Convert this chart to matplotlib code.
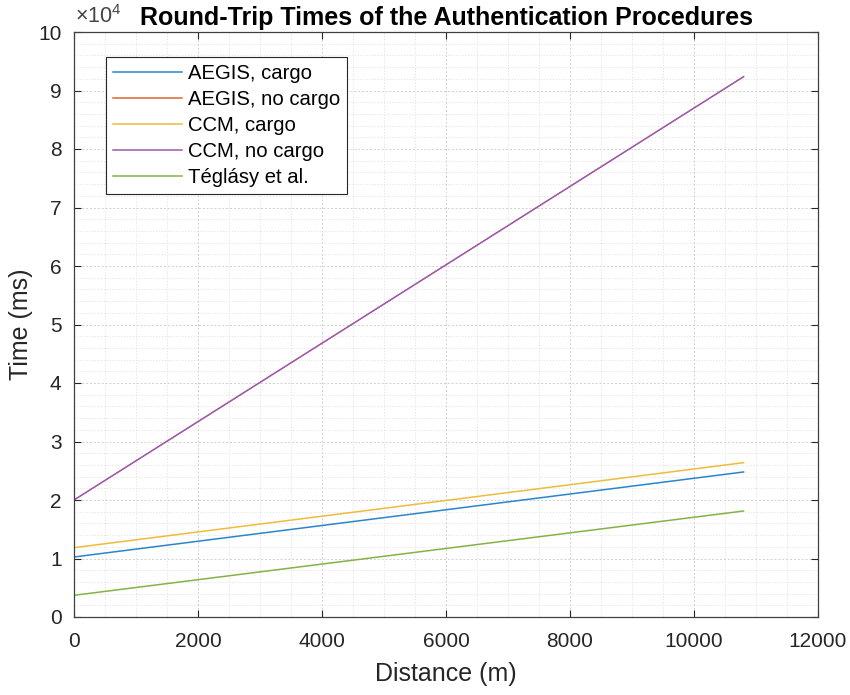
import matplotlib
matplotlib.use("Agg")
import matplotlib.pyplot as plt
import numpy as np
from matplotlib.ticker import MultipleLocator, FuncFormatter

# data (endpoints of straight lines)
distance = [0, 10800]
aegis_cargo = [10260, 24790]
aegis_nocargo = [20000, 92360]
ccm_cargo = [11850, 26380]
ccm_nocargo = [20000, 92360]
teglasy = [3710, 18120]

labels = ["AEGIS, cargo", "AEGIS, no cargo", "CCM, cargo", "CCM, no cargo", "Téglásy et al."]
colors = ["#2a85cc", "#de6535", "#f0bb3c", "#9a5aae", "#82b444"]

plt.rcParams['font.family'] = ['Liberation Sans', 'DejaVu Sans']
plt.rcParams['mathtext.fontset'] = 'custom'
plt.rcParams['mathtext.rm'] = 'Liberation Sans'
axcol = '#262626'

fig = plt.figure(figsize=(8.5, 6.95), dpi=100)
ax = fig.add_axes([74/850, 1-617/695, 744/850, 585/695])

series = [aegis_cargo, aegis_nocargo, ccm_cargo, ccm_nocargo, teglasy]
for s, lab, c in zip(series, labels, colors):
    # red one sits under the purple one, keep it thinner so it doesn't tint it
    lw = 0.7 if lab == "AEGIS, no cargo" else 1.1
    ax.plot(distance, s, color=c, lw=lw, label=lab)

ax.set_xlim(0, 12000)
ax.set_ylim(0, 100000)
ax.xaxis.set_major_locator(MultipleLocator(2000))
ax.xaxis.set_minor_locator(MultipleLocator(500))
ax.yaxis.set_major_locator(MultipleLocator(10000))
ax.yaxis.set_minor_locator(MultipleLocator(2000))
ax.yaxis.set_major_formatter(FuncFormatter(lambda v, p: "%g" % (v / 1e4)))
ax.text(0.002, 1.006, r"$\times10^{4}$", transform=ax.transAxes, fontsize=15.5,
        color='#444444', ha='left', va='bottom')

ax.grid(True, which='major', ls=(0, (2, 2)), color='#d0d0d0', lw=0.7)
ax.grid(True, which='minor', ls=(0, (1.5, 2)), color='#e0e0e0', lw=0.6)
ax.set_axisbelow(True)

ax.tick_params(which='major', direction='in', length=5, width=0.8, colors=axcol,
               labelsize=15, top=True, right=True)
ax.tick_params(axis='y', pad=9)
ax.tick_params(axis='x', pad=11)
ax.tick_params(which='minor', length=0)
for sp in ax.spines.values():
    sp.set_color('#404040')
    sp.set_linewidth(0.9)

ax.set_xlabel("Distance (m)", fontsize=18, color=axcol, labelpad=8)
ax.set_ylabel("Time (ms)", fontsize=18, color=axcol, labelpad=4)
ax.set_title("Round-Trip Times of the Authentication Procedures", fontsize=18,
             fontweight='bold', pad=5)

leg = ax.legend(loc='upper left', bbox_to_anchor=(0.043, 0.958), fontsize=14.6,
                frameon=True, fancybox=False, framealpha=1, edgecolor=axcol,
                handlelength=3.38, handletextpad=0.3, labelspacing=0.35,
                borderpad=0.35, borderaxespad=0)
leg.get_frame().set_linewidth(0.8)
for h in leg.get_lines():
    h.set_linewidth(1.1)

fig.savefig("out.png", dpi=100)
